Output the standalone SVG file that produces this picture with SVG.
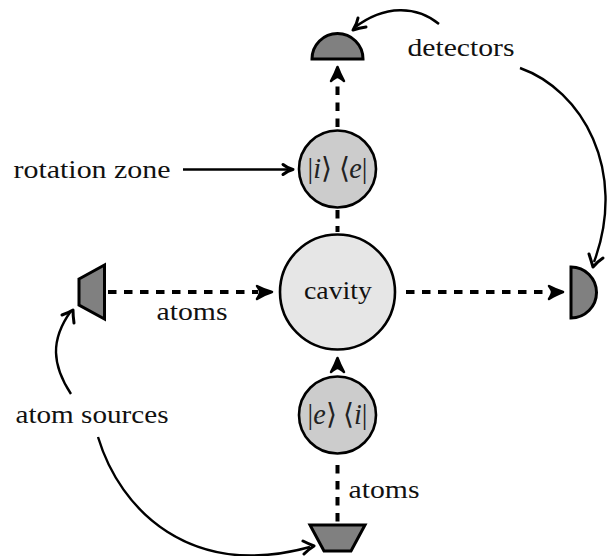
<svg xmlns="http://www.w3.org/2000/svg" width="611" height="556" viewBox="0 0 611 556">
<style>
text{font-family:"Liberation Serif","Times New Roman",serif;font-size:26px;fill:#111;text-anchor:middle}
.m{font-size:29px;fill:#222}
.i{font-style:italic}
.sh{fill:#808080;stroke:#000;stroke-width:3;stroke-linejoin:miter}
.rot{fill:#cccccc;stroke:#000;stroke-width:2.6}
.d{fill:none;stroke:#000;stroke-width:4;stroke-dasharray:8.500 7.500}
.h{fill:#000;stroke:#000;stroke-width:2.500;stroke-linejoin:round}
.c{fill:none;stroke:#000;stroke-width:2.4}
.a{fill:none;stroke:#000;stroke-width:3;stroke-linecap:round;stroke-linejoin:round}
</style>
<g id="connectors">
<path class="d" d="M337.500 127V84"/>
<path class="h" d="M331 81Q335 74 337.500 67Q340 74 344 81Q339 77 337.500 77Q336 77 331 81Z"/>
<path class="d" d="M337.500 210V232"/>
<path class="d" d="M108 292H258"/>
<path class="h" d="M257 286Q265 290 272 292Q265 294 257 299Q260 294 260 292Q260 290 257 286Z"/>
<path class="d" d="M406 292H550"/>
<path class="h" d="M549 286Q557 290 563 292Q557 294 549 299Q552 294 552 292Q552 290 549 286Z"/>
<path class="d" d="M337.500 465V522"/>
<path class="h" d="M331 372Q335 365 337.500 358Q340 365 344 372Q339 368 337.500 368Q336 368 331 372Z"/>
<path class="c" d="M183 169.500H288"/>
<path class="a" d="M283 164.500Q288 168.500 293 169.500Q288 170.500 283 174.500"/>
<path class="c" d="M439 24C417 6 385 4 354 28"/>
<path class="a" d="M358 18Q357 24 353 30Q359 28 366 27"/>
<path class="c" d="M520 68C582 90 628 170 594 262"/>
<path class="a" d="M589 254Q591 260 593 267Q597 262 603 258"/>
<path class="c" d="M71 394C52 365 50 340 71 311"/>
<path class="a" d="M62 315Q68 313 73 310Q73 316 74 323"/>
<path class="c" d="M98 437C120 510 190 580 310 547"/>
<path class="a" d="M303 541Q309 544 314 546Q309 549 304 554"/>
</g>
<g id="top-detector"><path class="sh" d="M312 59A25.500 25.500 0 0 1 363 59Z"/></g>
<g id="right-detector"><path class="sh" d="M571 267A25.500 25.500 0 0 1 571 318Z"/></g>
<g id="left-source"><path class="sh" d="M79 279L104.500 265V319L79 305Z"/></g>
<g id="bottom-source"><path class="sh" d="M310 525H365L351 551H324Z"/></g>
<g id="cavity"><circle cx="337.500" cy="292" r="57.500" fill="#e6e6e6" stroke="#000" stroke-width="2.600"/><text x="338" y="299" textLength="68" lengthAdjust="spacingAndGlyphs">cavity</text></g>
<g id="rotation-top"><circle class="rot" cx="337.500" cy="169" r="38.500"/><text class="m" x="337.500" y="178" xml:space="preserve" textLength="60" lengthAdjust="spacingAndGlyphs">|<tspan class="i">i</tspan>⟩ ⟨<tspan class="i">e</tspan>|</text></g>
<g id="rotation-bottom"><circle class="rot" cx="337.500" cy="415" r="38.500"/><text class="m" x="337.500" y="424" xml:space="preserve" textLength="60" lengthAdjust="spacingAndGlyphs">|<tspan class="i">e</tspan>⟩ ⟨<tspan class="i">i</tspan>|</text></g>
<g id="labels">
<text x="461" y="56" textLength="107" lengthAdjust="spacingAndGlyphs">detectors</text>
<text x="92" y="178" textLength="157" lengthAdjust="spacingAndGlyphs">rotation zone</text>
<text x="192" y="320" textLength="71" lengthAdjust="spacingAndGlyphs">atoms</text>
<text x="92" y="423" textLength="153" lengthAdjust="spacingAndGlyphs">atom sources</text>
<text x="384" y="498" textLength="71" lengthAdjust="spacingAndGlyphs">atoms</text>
</g>
</svg>
